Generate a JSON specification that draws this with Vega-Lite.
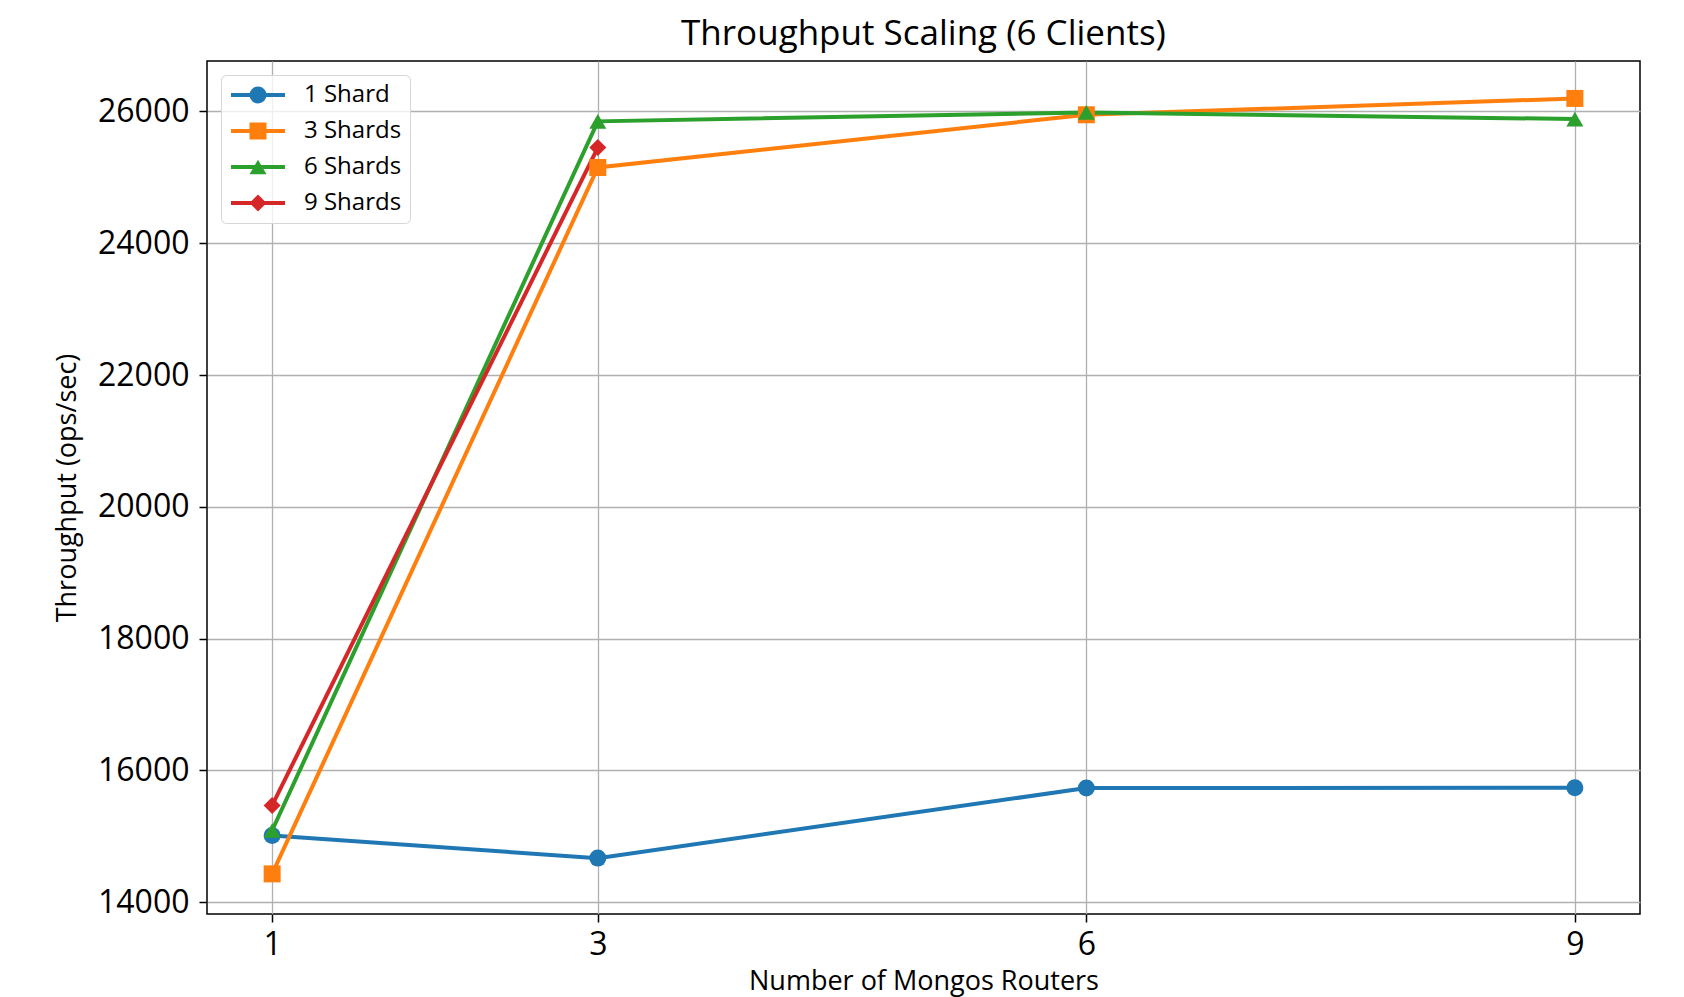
{
  "$schema": "https://vega.github.io/schema/vega-lite/v6.json",
  "width": 1433,
  "height": 853,
  "autosize": "none",
  "padding": {"left": 207, "top": 61, "right": 44, "bottom": 83},
  "background": "white",
  "title": {
    "text": "Throughput Scaling (6 Clients)",
    "fontSize": 35,
    "font": "Open Sans",
    "fontWeight": "normal",
    "color": "#000000",
    "anchor": "middle",
    "offset": 9
  },
  "data": {
    "values": [
      {"routers": 1, "series": "1 Shard", "shards": 1, "throughput": 15012},
      {"routers": 3, "series": "1 Shard", "shards": 1, "throughput": 14669},
      {"routers": 6, "series": "1 Shard", "shards": 1, "throughput": 15733},
      {"routers": 9, "series": "1 Shard", "shards": 1, "throughput": 15738},
      {"routers": 1, "series": "3 Shards", "shards": 3, "throughput": 14430},
      {"routers": 3, "series": "3 Shards", "shards": 3, "throughput": 25150},
      {"routers": 6, "series": "3 Shards", "shards": 3, "throughput": 25950},
      {"routers": 9, "series": "3 Shards", "shards": 3, "throughput": 26198},
      {"routers": 1, "series": "6 Shards", "shards": 6, "throughput": 15088},
      {"routers": 3, "series": "6 Shards", "shards": 6, "throughput": 25850},
      {"routers": 6, "series": "6 Shards", "shards": 6, "throughput": 25985},
      {"routers": 9, "series": "6 Shards", "shards": 6, "throughput": 25885},
      {"routers": 1, "series": "9 Shards", "shards": 9, "throughput": 15468},
      {"routers": 3, "series": "9 Shards", "shards": 9, "throughput": 25453}
    ]
  },
  "encoding": {
    "x": {
      "field": "routers",
      "type": "quantitative",
      "scale": {"domain": [0.6, 9.4], "nice": false, "zero": false},
      "axis": {
        "title": "Number of Mongos Routers",
        "values": [1, 3, 6, 9],
        "format": "d",
        "labelFontSize": 32,
        "titleFontSize": 27,
        "labelPadding": 7,
        "titlePadding": 8
      }
    },
    "y": {
      "field": "throughput",
      "type": "quantitative",
      "scale": {"domain": [13821, 26766], "nice": false, "zero": false},
      "axis": {
        "title": "Throughput (ops/sec)",
        "values": [14000, 16000, 18000, 20000, 22000, 24000, 26000],
        "format": "d",
        "labelFontSize": 32,
        "titleFontSize": 27,
        "labelPadding": 10,
        "titlePadding": 16
      }
    }
  },
  "layer": [
    {
      "mark": {"type": "line", "strokeWidth": 4},
      "encoding": {
        "color": {
          "field": "series",
          "type": "nominal",
          "scale": {
            "domain": ["1 Shard", "3 Shards", "6 Shards", "9 Shards"],
            "range": ["#1f77b4", "#ff7f0e", "#2ca02c", "#d62728"]
          },
          "legend": {
            "title": null,
            "orient": "none",
            "legendX": 14,
            "legendY": 14,
            "zindex": 1,
            "padding": 8,
            "symbolType": "M-3,0H3",
            "symbolSize": 324,
            "symbolStrokeWidth": 4,
            "symbolOffset": 17,
            "labelFontSize": 24,
            "labelOffset": 34,
            "rowPadding": 12,
            "fillColor": "rgba(255,255,255,0.8)",
            "strokeColor": "#d6d6d6",
            "cornerRadius": 5
          }
        },
        "order": {"field": "routers", "type": "quantitative"}
      }
    },
    {
      "mark": {"type": "point", "filled": true, "opacity": 1},
      "encoding": {
        "fill": {
          "field": "shards",
          "type": "ordinal",
          "scale": {
            "domain": [1, 3, 6, 9],
            "range": ["#1f77b4", "#ff7f0e", "#2ca02c", "#d62728"]
          },
          "legend": {
            "title": null,
            "orient": "none",
            "legendX": 14,
            "legendY": 14,
            "zindex": 2,
            "padding": 8,
            "symbolStrokeWidth": 0,
            "symbolOffset": 17,
            "labelFontSize": 24,
            "labelOffset": 34,
            "labelExpr": "''",
            "rowPadding": 12
          }
        },
        "shape": {
          "field": "shards",
          "type": "ordinal",
          "scale": {
            "domain": [1, 3, 6, 9],
            "range": ["circle", "square", "triangle-up", "diamond"]
          }
        },
        "size": {
          "field": "shards",
          "type": "ordinal",
          "scale": {"domain": [1, 3, 6, 9], "range": [289, 289, 420, 576]}
        }
      }
    }
  ],
  "config": {
    "font": "Open Sans",
    "view": {"stroke": "#000000", "strokeWidth": 1.5},
    "axis": {
      "domain": false,
      "grid": true,
      "gridColor": "#b0b0b0",
      "gridWidth": 1.3,
      "tickColor": "#000000",
      "tickWidth": 1.5,
      "tickSize": 8,
      "labelColor": "#000000",
      "titleColor": "#000000",
      "titleFontWeight": "normal",
      "labelFont": "Open Sans",
      "titleFont": "Open Sans"
    },
    "legend": {
      "labelColor": "#000000",
      "labelFont": "Open Sans"
    }
  }
}
